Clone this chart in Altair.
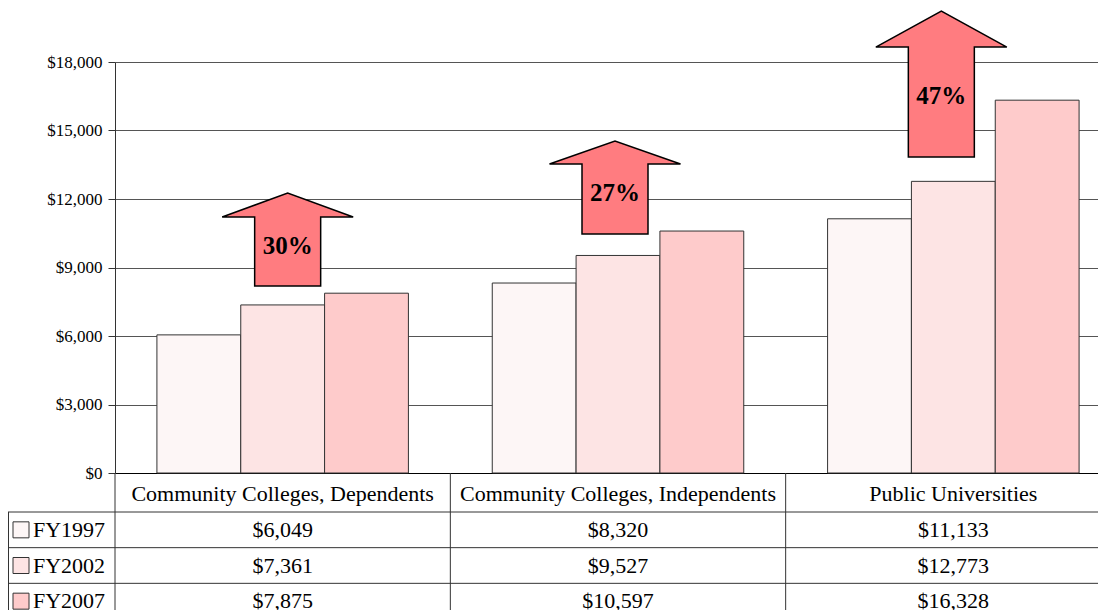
import altair as alt
import pandas as pd

# ---------------- data ----------------
categories = ["Community Colleges, Dependents",
              "Community Colleges, Independents",
              "Public Universities"]
years = ["FY1997", "FY2002", "FY2007"]
fy1997 = [6049, 8320, 11133]
fy2002 = [7361, 9527, 12773]
fy2007 = [7875, 10597, 16328]
increase_labels = ["30%", "27%", "47%"]
arrow_tip = [12260, 14540, 20230]    # top of each arrow, in dollars
arrow_base = [8190, 10470, 13840]    # bottom of each arrow, in dollars
title_text = "Total Annual College Costs (excluding financial aid), Adjusted for Inflation"

# ---------------- layout / style ----------------
PLOT_W, PLOT_H = 983, 411
BAND_RANGE = 1006
Y_MAX = 18000
PAD = {"left": 107, "top": 54, "right": 0, "bottom": 137}
K = PLOT_H / Y_MAX                      # pixels per dollar
bar_colors = ["#fdf6f6", "#fde4e4", "#fecbcb"]
arrow_fill = "#ff7c80"
arrow_dx = [5, -3, -12]
arrow_head_h = [24, 23, 36]
SERIF = "Liberation Serif"

rows = []
for yr, vals in zip(years, [fy1997, fy2002, fy2007]):
    for c, v in zip(categories, vals):
        rows.append({"category": c, "year": yr, "value": v})
df = pd.DataFrame(rows)

xscale = alt.Scale(type="band", domain=categories, range=[0, BAND_RANGE],
                   paddingInner=0, paddingOuter=0)
yscale = alt.Scale(domain=[0, Y_MAX], nice=False)
rowscale = alt.Scale(type="band", domain=years, range=[450, 557],
                     paddingInner=0, paddingOuter=0)
colscale = alt.Scale(domain=years, range=bar_colors)

bars = alt.Chart(df).mark_bar(stroke="#333333", strokeWidth=1).encode(
    x=alt.X("category:N", scale=xscale,
            axis=alt.Axis(title=None, labelAngle=0, labelFont=SERIF, labelFontSize=22,
                          labelColor="black", labelLimit=500, ticks=False, tickSize=0,
                          labelPadding=20, labelBaseline="middle", domainColor="#000000",
                          grid=False)),
    xOffset=alt.XOffset("year:N", scale=alt.Scale(domain=years, paddingInner=0, paddingOuter=0.5)),
    y=alt.Y("value:Q", scale=yscale,
            axis=alt.Axis(title=None, values=list(range(0, Y_MAX + 1, 3000)), format="$,.0f",
                          labelFont=SERIF, labelFontSize=17, labelColor="black",
                          tickSize=7, tickColor="#333333", domainColor="#333333",
                          gridColor="#555555", labelPadding=6)),
    color=alt.Color("year:N", scale=colscale, legend=None),
)

table_text = alt.Chart(df).mark_text(font=SERIF, fontSize=22, color="black",
                                     baseline="middle").encode(
    x=alt.X("category:N", scale=xscale, bandPosition=0.5, axis=None),
    y=alt.Y("year:N", scale=rowscale, bandPosition=0.5, axis=None),
    text=alt.Text("value:Q", format="$,.0f"),
)

years_df = pd.DataFrame({"year": years})
cats_df = pd.DataFrame({"category": categories})

hrules = alt.Chart(years_df).mark_rule(color="#333333", strokeWidth=1).encode(
    y=alt.Y("year:N", scale=rowscale, bandPosition=0, axis=None),
    x=alt.value(-PAD["left"]), x2=alt.value(PLOT_W),
)
vrules = alt.Chart(cats_df).mark_rule(color="#333333", strokeWidth=1).encode(
    x=alt.X("category:N", scale=xscale, bandPosition=0, axis=None),
    y=alt.value(PLOT_H), y2=alt.value(PLOT_H + PAD["bottom"]),
)
left_border = alt.Chart(years_df.head(1)).mark_rule(color="#333333", strokeWidth=1).encode(
    y=alt.Y("year:N", scale=rowscale, bandPosition=0, axis=None),
    y2=alt.value(PLOT_H + PAD["bottom"]),
    x=alt.value(-PAD["left"] + 0.5),
)

legend_sq = alt.Chart(years_df).mark_square(size=256, stroke="#333333", strokeWidth=1,
                                            opacity=1, filled=True).encode(
    y=alt.Y("year:N", scale=rowscale, bandPosition=0.5, axis=None),
    x=alt.value(-94),
    fill=alt.Fill("year:N", scale=colscale, legend=None),
)
legend_txt = alt.Chart(years_df).mark_text(font=SERIF, fontSize=22, color="black",
                                           align="left", baseline="middle").encode(
    y=alt.Y("year:N", scale=rowscale, bandPosition=0.5, axis=None),
    x=alt.value(-82),
    text="year:N",
)

layers = [bars, table_text, hrules, vrules, left_border, legend_sq, legend_txt]

for i, cat in enumerate(categories):
    H = (arrow_tip[i] - arrow_base[i]) * K
    hh = arrow_head_h[i]
    d = arrow_dx[i]
    sh = H - hh
    path = (f"M{d-33},0 L{d+33},0 L{d+33},{-sh} L{d+65.5},{-sh} L{d},{-H} "
            f"L{d-65.5},{-sh} L{d-33},{-sh} Z")
    adf = pd.DataFrame({"category": [cat], "base": [arrow_base[i]],
                        "label": [increase_labels[i]],
                        "label_y": [arrow_base[i] + (sh / 2 + 6) / K]})
    arrow = alt.Chart(adf).mark_point(shape=path, size=4, filled=True, fill=arrow_fill,
                                      stroke="#000000", strokeWidth=1.5, opacity=1).encode(
        x=alt.X("category:N", scale=xscale, bandPosition=0.5, axis=None),
        y=alt.Y("base:Q", scale=yscale, axis=None),
    )
    atext = alt.Chart(adf).mark_text(font=SERIF, fontSize=25, fontWeight="bold",
                                     color="black", baseline="middle", dx=d).encode(
        x=alt.X("category:N", scale=xscale, bandPosition=0.5, axis=None),
        y=alt.Y("label_y:Q", scale=yscale, axis=None),
        text="label:N",
    )
    layers += [arrow, atext]

title = alt.Chart(pd.DataFrame({"t": [title_text]})).mark_text(
    font="Liberation Sans", fontSize=22, fontWeight="bold", color="#333399",
    align="center", baseline="alphabetic").encode(
    x=alt.value(411), y=alt.value(-60), text="t:N")
layers.append(title)

chart = alt.layer(*layers).resolve_scale(x="independent", y="independent").properties(
    width=PLOT_W, height=PLOT_H,
    autosize=alt.AutoSizeParams(type="none"),
    padding=PAD,
    background="white",
).configure_view(stroke=None)

chart.save("out.html", embed_options={"renderer": "svg", "actions": False})
